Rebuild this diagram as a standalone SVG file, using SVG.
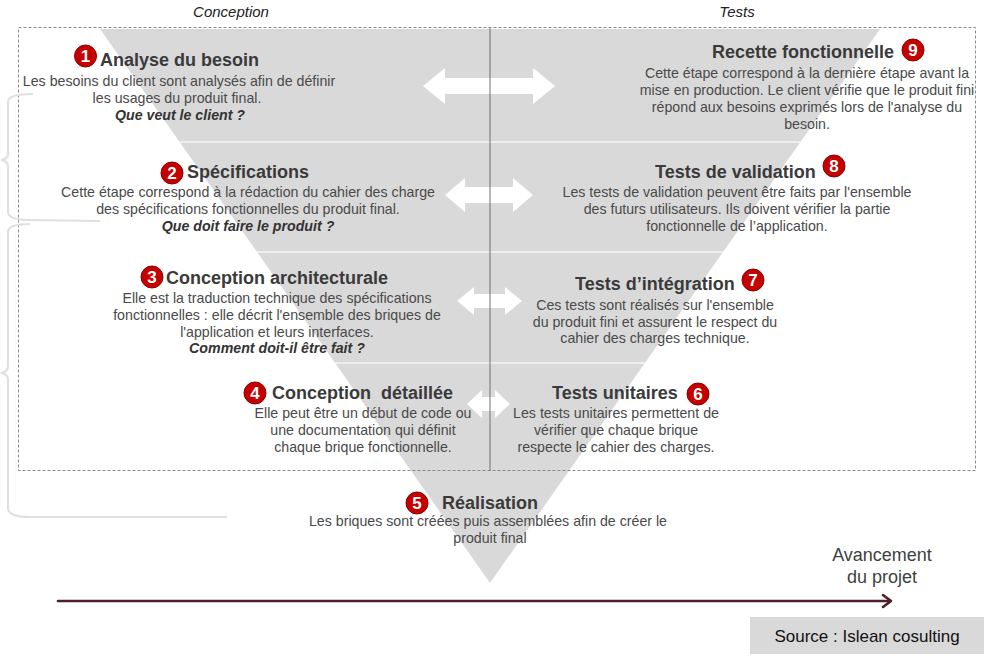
<svg xmlns="http://www.w3.org/2000/svg" width="989" height="658" viewBox="0 0 989 658">
<style>
  text { font-family: "Liberation Sans", Arial, sans-serif; }
  .hdr { font-size: 15px; font-style: italic; fill: #222; text-anchor: middle; }
  .title { font-size: 18px; font-weight: bold; fill: #3a3a3a; }
  .body { font-size: 14.2px; fill: #4a4a4a; text-anchor: middle; }
  .q { font-size: 14.2px; font-weight: bold; font-style: italic; fill: #333; text-anchor: middle; }
  .badge { fill: #c40000; stroke: #8a0000; stroke-width: 1; }
  .num { font-size: 17px; font-weight: bold; fill: #fff; text-anchor: middle; }
  .brace { fill: none; stroke: #e0e0e0; stroke-width: 2.2; }
  .sep { stroke: #f4f4f4; stroke-width: 1.6; }
  .darrow { fill: #ffffff; }
  .prog { font-size: 18px; fill: #3f3f3f; text-anchor: middle; }
</style>
<defs>
  <filter id="soft" x="-10%" y="-10%" width="120%" height="120%">
    <feGaussianBlur stdDeviation="0.7"/>
  </filter>
</defs>
<rect width="989" height="658" fill="#ffffff"/>

<g id="background">
  <polygon points="100,29 880,29 490,583" fill="#d9d9d9"/>
  <line class="sep" x1="180" y1="142" x2="800" y2="142"/>
  <line class="sep" x1="257" y1="252" x2="723" y2="252"/>
  <line class="sep" x1="335" y1="363" x2="645" y2="363"/>
  <rect x="18.5" y="27.5" width="957" height="443" fill="none" stroke="#8a8a8a" stroke-width="1" stroke-dasharray="3,2"/>
  <path class="brace" d="M33,94 Q8,94 8,102 L8,154 Q8,159 1,160 Q8,161 8,166 L8,212 Q8,220 30,220 L100,221"/>
  <path class="brace" d="M30,224 Q8,224 8,232 L8,366 Q8,372 1,373 Q8,374 8,380 L8,508 Q8,517 30,517 L227,517"/>
</g>

<g id="connectors">
  <g filter="url(#soft)">
    <polygon class="darrow" points="423,86 445,68 445,78 533,78 533,68 555,86 533,104 533,94 445,94 445,104"/>
    <polygon class="darrow" points="445,195 465,178 465,187 513,187 513,178 533,195 513,212 513,203 465,203 465,212"/>
    <polygon class="darrow" points="457,301 474,287 474,294 505,294 505,287 522,301 505,315 505,308 474,308 474,315"/>
    <polygon class="darrow" points="467,404 482,390 482,397 495,397 495,390 510,404 495,418 495,411 482,411 482,418"/>
  </g>
  <line x1="490" y1="28" x2="490" y2="471" stroke="#6e6e6e" stroke-width="1"/>
  <g id="progress-arrow" stroke="#4e1f2b" stroke-width="2.6" fill="none" stroke-linecap="round">
    <line x1="58" y1="601" x2="890" y2="601"/>
    <polyline points="883,595 891,601 883,607" stroke-linejoin="round"/>
  </g>
</g>

<g id="headers">
  <text class="hdr" x="231" y="17">Conception</text>
  <text class="hdr" x="737" y="17">Tests</text>
</g>

<g id="step1">
  <circle class="badge" cx="85.5" cy="56" r="11"/>
  <text class="num" x="85.5" y="62">1</text>
  <text class="title" x="100" y="66">Analyse du besoin</text>
  <text class="body" x="179" y="86">Les besoins du client sont analysés afin de définir</text>
  <text class="body" x="177" y="103">les usages du produit final.</text>
  <text class="q" x="180" y="120">Que veut le client ?</text>
</g>

<g id="step2">
  <circle class="badge" cx="172" cy="173" r="11"/>
  <text class="num" x="172" y="179">2</text>
  <text class="title" x="187" y="178">Spécifications</text>
  <text class="body" x="248" y="197">Cette étape correspond à la rédaction du cahier des charge</text>
  <text class="body" x="248" y="214">des spécifications fonctionnelles du produit final.</text>
  <text class="q" x="248" y="231">Que doit faire le produit ?</text>
</g>

<g id="step3">
  <circle class="badge" cx="152" cy="277" r="11"/>
  <text class="num" x="152" y="283">3</text>
  <text class="title" x="166" y="284">Conception architecturale</text>
  <text class="body" x="277" y="303">Elle est la traduction technique des spécifications</text>
  <text class="body" x="277" y="320">fonctionnelles : elle décrit l'ensemble des briques de</text>
  <text class="body" x="277" y="337">l'application et leurs interfaces.</text>
  <text class="q" x="277" y="353">Comment doit-il être fait ?</text>
</g>

<g id="step4">
  <circle class="badge" cx="255" cy="393" r="11"/>
  <text class="num" x="255" y="399">4</text>
  <text class="title" x="272" y="399" xml:space="preserve">Conception  détaillée</text>
  <text class="body" x="363" y="418">Elle peut être un début de code ou</text>
  <text class="body" x="363" y="435">une documentation qui définit</text>
  <text class="body" x="363" y="452">chaque brique fonctionnelle.</text>
</g>

<g id="step5">
  <circle class="badge" cx="417" cy="503" r="11"/>
  <text class="num" x="417" y="509">5</text>
  <text class="title" x="442" y="509">Réalisation</text>
  <text class="body" x="488" y="526">Les briques sont créées puis assemblées afin de créer le</text>
  <text class="body" x="490" y="543">produit final</text>
</g>

<g id="step6">
  <text class="title" x="552" y="399">Tests unitaires</text>
  <circle class="badge" cx="698" cy="394" r="11"/>
  <text class="num" x="698" y="400">6</text>
  <text class="body" x="616" y="418">Les tests unitaires permettent de</text>
  <text class="body" x="616" y="435">vérifier que chaque brique</text>
  <text class="body" x="616" y="452">respecte le cahier des charges.</text>
</g>

<g id="step7">
  <text class="title" x="575" y="290">Tests d’intégration</text>
  <circle class="badge" cx="753" cy="280" r="11"/>
  <text class="num" x="753" y="286">7</text>
  <text class="body" x="655" y="310">Ces tests sont réalisés sur l'ensemble</text>
  <text class="body" x="655" y="327">du produit fini et assurent le respect du</text>
  <text class="body" x="655" y="343">cahier des charges technique.</text>
</g>

<g id="step8">
  <text class="title" x="655" y="178">Tests de validation</text>
  <circle class="badge" cx="834" cy="166" r="11"/>
  <text class="num" x="834" y="172">8</text>
  <text class="body" x="737" y="197">Les tests de validation peuvent être faits par l'ensemble</text>
  <text class="body" x="737" y="214">des futurs utilisateurs. Ils doivent vérifier la partie</text>
  <text class="body" x="737" y="231">fonctionnelle de l’application.</text>
</g>

<g id="step9">
  <text class="title" x="712" y="58">Recette fonctionnelle</text>
  <circle class="badge" cx="913" cy="50" r="11"/>
  <text class="num" x="913" y="56">9</text>
  <text class="body" x="807" y="78">Cette étape correspond à la dernière étape avant la</text>
  <text class="body" x="807" y="95">mise en production. Le client vérifie que le produit fini</text>
  <text class="body" x="807" y="112">répond aux besoins exprimés lors de l'analyse du</text>
  <text class="body" x="807" y="129">besoin.</text>
</g>

<g id="avancement">
  <text class="prog" x="882" y="561">Avancement</text>
  <text class="prog" x="882" y="583">du projet</text>
</g>

<g id="source">
  <rect x="750" y="617" width="234" height="37" fill="#d9d9d9"/>
  <text x="867" y="642" font-size="17" fill="#111" text-anchor="middle">Source : Islean cosulting</text>
</g>
</svg>
